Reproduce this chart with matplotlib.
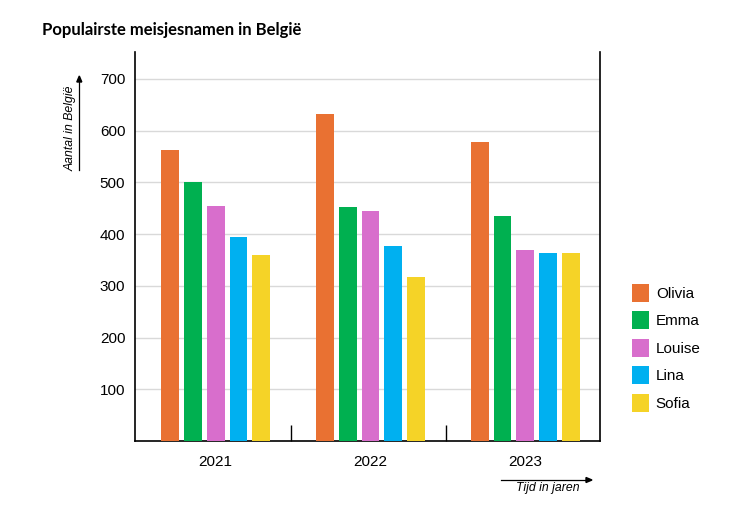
import numpy as np
import matplotlib.pyplot as plt
from matplotlib.patches import Patch

years = ['2021', '2022', '2023']
names = ['Olivia', 'Emma', 'Louise', 'Lina', 'Sofia']
olivia = [563, 632, 578]
emma = [501, 452, 434]
louise = [455, 445, 369]
lina = [394, 377, 364]
sofia = [359, 316, 363]
colors = ['#E97132', '#00B050', '#D86ECC', '#00B0F0', '#F5D327']
yticks = [100, 200, 300, 400, 500, 600, 700]

series = [olivia, emma, louise, lina, sofia]

plt.rcParams['font.family'] = ['Liberation Sans', 'DejaVu Sans']

fig = plt.figure(figsize=(7.46, 5.15), dpi=100)
ax = fig.add_axes([0.181, 0.1437, 0.623, 0.7546])

x = np.arange(len(years))
step = 0.148
width = 0.116
for i, vals in enumerate(series):
    ax.bar(x + (i - 2) * step, vals, width, color=colors[i], zorder=3)

ax.set_xlim(-0.52, 2.48)
ax.set_ylim(0, 751)
ax.set_yticks(yticks)
ax.set_yticklabels([str(v) for v in yticks], fontsize=11)
ax.set_xticks(x)
ax.set_xticklabels(years, fontsize=11)
ax.tick_params(axis='both', length=0)
ax.tick_params(axis='y', pad=7)
ax.tick_params(axis='x', pad=10)
ax.set_xticks([0.485, 1.485], minor=True)
ax.tick_params(axis='x', which='minor', direction='in', length=11.5, width=1, color='black')
ax.grid(axis='y', color='#d9d9d9', linewidth=1, zorder=0)
ax.spines['top'].set_visible(False)
for s in ['left', 'right', 'bottom']:
    ax.spines[s].set_linewidth(1.2)
    ax.spines[s].set_color('black')

fig.text(42 / 746, 1 - 30 / 515, 'Populairste meisjesnamen in België', fontsize=12,
         fontweight='bold', va='center', ha='left', family=['Lato', 'DejaVu Sans'])

# y label with arrow
fig.text(71 / 746, 1 - 128 / 515, 'Aantal in België', rotation=90, fontsize=8.8,
         style='italic', ha='center', va='center')
fig.add_artist(plt.Line2D([79.3 / 746, 79.3 / 746], [1 - 170 / 515, 1 - 80 / 515],
                          color='black', lw=0.9))
fig.patches.append(plt.Polygon([[76.8 / 746, 1 - 82 / 515], [81.8 / 746, 1 - 82 / 515],
                                [79.3 / 746, 1 - 76 / 515]], closed=True, color='black',
                               transform=fig.transFigure, figure=fig))

# x label with arrow
fig.text(548 / 746, 1 - 488 / 515, 'Tijd in jaren', fontsize=8.8, style='italic',
         ha='center', va='center')
fig.add_artist(plt.Line2D([501 / 746, 588 / 746], [1 - 480 / 515, 1 - 480 / 515],
                          color='black', lw=0.9))
fig.patches.append(plt.Polygon([[586 / 746, 1 - 477.5 / 515], [586 / 746, 1 - 482.5 / 515],
                                [592 / 746, 1 - 480 / 515]], closed=True, color='black',
                               transform=fig.transFigure, figure=fig))

handles = [Patch(facecolor=c, label=n) for c, n in zip(colors, names)]
fig.legend(handles=handles, loc='upper left', bbox_to_anchor=(632 / 746, 1 - 284 / 515),
           frameon=False, fontsize=11, handlelength=1.11, handleheight=1.43,
           handletextpad=0.45, labelspacing=0.62, borderaxespad=0, borderpad=0)

fig.savefig('out.png', dpi=100)
